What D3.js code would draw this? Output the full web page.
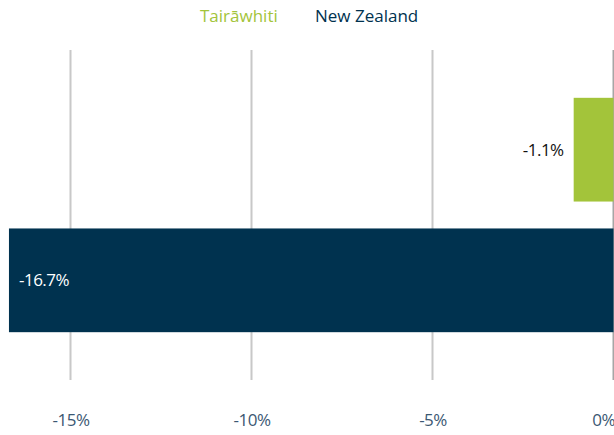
<!DOCTYPE html>
<html>
<head>
<meta charset="utf-8">
<script src="https://cdn.jsdelivr.net/npm/d3@7"></script>
<style>
  html, body { margin: 0; padding: 0; background: #fff; }
  svg { display: block; font-family: "Open Sans", "Noto Sans", sans-serif; }
</style>
</head>
<body>
<div id="chart"></div>
<script>
const seriesNames = ['Tairāwhiti', 'New Zealand'];
const seriesValues = [-1.1, -16.7];
const seriesColors = ['#a3c43a', '#00324f'];
const tickValues = [-15, -10, -5, 0];

const width = 614, height = 435;
const fontFamily = '"Open Sans", "Noto Sans", sans-serif';

const svg = d3.select('#chart')
  .append('svg')
  .attr('width', width)
  .attr('height', height);

// x: 0% sits on the right edge
const x = d3.scaleLinear()
  .domain([-15, 0])
  .range([70.5, 613.5]);

const y = d3.scaleBand()
  .domain(seriesNames)
  .range([50, 380])
  .paddingInner(0.206)
  .paddingOuter(0.366);

const pct = d => d3.format('.1f')(d).replace('\u2212', '-') + '%';

// gridlines
svg.append('g')
  .selectAll('line')
  .data(tickValues)
  .join('line')
  .attr('x1', d => x(d))
  .attr('x2', d => x(d))
  .attr('y1', 50)
  .attr('y2', 380)
  .attr('stroke', d => d === 0 ? '#a6a6a6' : '#c8c8c8')
  .attr('stroke-width', 2);

// bars
svg.append('g')
  .selectAll('rect')
  .data(seriesNames)
  .join('rect')
  .attr('x', (d, i) => x(seriesValues[i]))
  .attr('y', d => y(d))
  .attr('width', (d, i) => x(0) - x(seriesValues[i]))
  .attr('height', y.bandwidth())
  .attr('fill', (d, i) => seriesColors[i]);

// value labels
svg.append('g')
  .selectAll('text')
  .data(seriesNames)
  .join('text')
  .attr('x', (d, i) => i === 0 ? x(seriesValues[i]) - 10 : x(seriesValues[i]) + 10)
  .attr('y', d => y(d) + y.bandwidth() / 2)
  .attr('dy', '0.35em')
  .attr('text-anchor', (d, i) => i === 0 ? 'end' : 'start')
  .attr('fill', (d, i) => i === 0 ? '#111' : '#fff')
  .style('font-size', '17px')
  .style('letter-spacing', '-0.5px')
  .text((d, i) => pct(seriesValues[i]));

// x axis
const xAxis = d3.axisBottom(x)
  .tickValues(tickValues)
  .tickSize(0)
  .tickFormat(d => String(d) + '%');

const axisG = svg.append('g')
  .attr('transform', 'translate(0,411)')
  .call(xAxis);
axisG.select('.domain').remove();
axisG.selectAll('text')
  .attr('fill', '#3b5873')
  .style('font-size', '17px')
  .style('font-family', fontFamily)
  .style('letter-spacing', '-0.5px')
  .attr('text-anchor', d => d === 0 ? 'end' : 'middle')
  .attr('dx', d => d === 0 ? '1px' : 0);

// legend
const legend = svg.append('g');
const legendX = [200, 315];
legend.selectAll('text')
  .data(seriesNames)
  .join('text')
  .attr('x', (d, i) => legendX[i])
  .attr('y', 22)
  .attr('fill', (d, i) => seriesColors[i])
  .style('font-size', '17px')
  .text(d => d);
</script>
</body>
</html>
